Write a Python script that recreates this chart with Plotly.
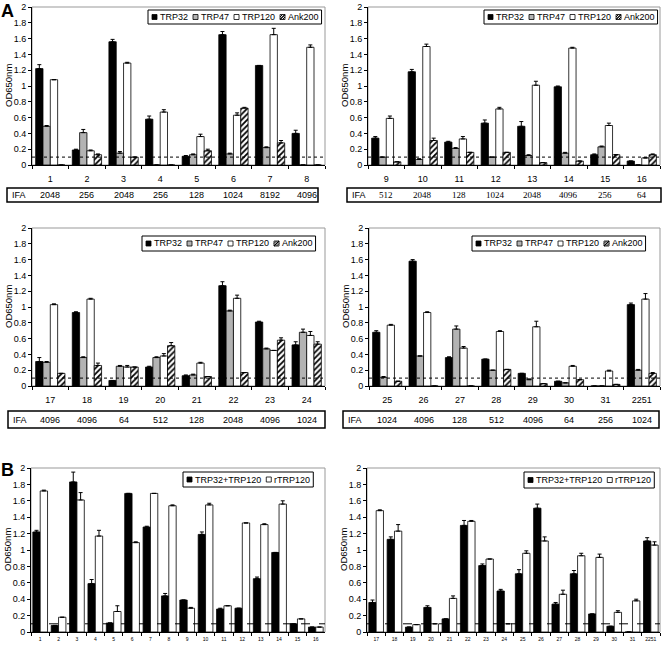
import plotly.graph_objects as go

W, H = 664, 648


def px(x):
    return x / W


def py(y):
    return 1 - y / H


# ---------------- DATA ----------------
series_A = ["TRP32", "TRP47", "TRP120", "Ank200"]
series_B = ["TRP32+TRP120", "rTRP120"]

cats_A1 = ["1", "2", "3", "4", "5", "6", "7", "8"]
trp32_A1 = [1.22, 0.19, 1.56, 0.58, 0.11, 1.65, 1.26, 0.40]
trp32_A1_err = [0.05, 0.01, 0.03, 0.04, 0.01, 0.04, 0.0, 0.04]
trp47_A1 = [0.49, 0.41, 0.15, 0.0, 0.13, 0.14, 0.22, 0.0]
trp47_A1_err = [0.01, 0.04, 0.02, 0.0, 0.01, 0.01, 0.01, 0.0]
trp120_A1 = [1.08, 0.18, 1.29, 0.67, 0.36, 0.63, 1.65, 1.49]
trp120_A1_err = [0.0, 0.01, 0.01, 0.03, 0.03, 0.03, 0.08, 0.03]
ank200_A1 = [0.0, 0.13, 0.10, 0.0, 0.18, 0.72, 0.28, 0.0]
ank200_A1_err = [0.0, 0.01, 0.0, 0.0, 0.02, 0.01, 0.03, 0.0]
ifa_A1 = ["2048", "256", "2048", "256", "128", "1024", "8192", "4096"]

cats_A2 = ["9", "10", "11", "12", "13", "14", "15", "16"]
trp32_A2 = [0.34, 1.18, 0.29, 0.53, 0.49, 0.99, 0.13, 0.05]
trp32_A2_err = [0.02, 0.03, 0.01, 0.04, 0.06, 0.01, 0.01, 0.0]
trp47_A2 = [0.10, 0.07, 0.21, 0.10, 0.12, 0.15, 0.23, 0.0]
trp47_A2_err = [0.0, 0.01, 0.01, 0.0, 0.01, 0.01, 0.01, 0.0]
trp120_A2 = [0.59, 1.50, 0.33, 0.71, 1.01, 1.48, 0.50, 0.09]
trp120_A2_err = [0.03, 0.03, 0.03, 0.02, 0.05, 0.01, 0.03, 0.0]
ank200_A2 = [0.04, 0.31, 0.16, 0.16, 0.03, 0.05, 0.13, 0.13]
ank200_A2_err = [0.0, 0.03, 0.0, 0.0, 0.0, 0.0, 0.0, 0.01]
ifa_A2 = ["512", "2048", "128", "1024", "2048", "4096", "256", "64"]

cats_A3 = ["17", "18", "19", "20", "21", "22", "23", "24"]
trp32_A3 = [0.31, 0.93, 0.07, 0.24, 0.13, 1.27, 0.81, 0.52]
trp32_A3_err = [0.05, 0.01, 0.0, 0.01, 0.01, 0.05, 0.01, 0.04]
trp47_A3 = [0.30, 0.36, 0.25, 0.36, 0.14, 0.95, 0.47, 0.68]
trp47_A3_err = [0.01, 0.01, 0.01, 0.01, 0.01, 0.01, 0.01, 0.04]
trp120_A3 = [1.03, 1.10, 0.24, 0.38, 0.29, 1.11, 0.45, 0.64]
trp120_A3_err = [0.01, 0.01, 0.02, 0.03, 0.01, 0.04, 0.0, 0.05]
ank200_A3 = [0.16, 0.26, 0.24, 0.51, 0.12, 0.17, 0.58, 0.53]
ank200_A3_err = [0.0, 0.03, 0.0, 0.04, 0.0, 0.0, 0.03, 0.03]
ifa_A3 = ["4096", "4096", "64", "512", "128", "2048", "4096", "1024"]

cats_A4 = ["25", "26", "27", "28", "29", "30", "31", "2251"]
trp32_A4 = [0.68, 1.58, 0.36, 0.34, 0.16, 0.06, 0.0, 1.03]
trp32_A4_err = [0.02, 0.02, 0.01, 0.0, 0.0, 0.0, 0.0, 0.02]
trp47_A4 = [0.11, 0.38, 0.72, 0.20, 0.08, 0.04, 0.0, 0.20]
trp47_A4_err = [0.01, 0.0, 0.04, 0.0, 0.01, 0.0, 0.0, 0.01]
trp120_A4 = [0.77, 0.93, 0.48, 0.69, 0.75, 0.25, 0.19, 1.10]
trp120_A4_err = [0.01, 0.01, 0.02, 0.01, 0.07, 0.01, 0.01, 0.07]
ank200_A4 = [0.06, 0.0, 0.0, 0.21, 0.03, 0.08, 0.02, 0.16]
ank200_A4_err = [0.0, 0.0, 0.0, 0.0, 0.0, 0.0, 0.0, 0.01]
ifa_A4 = ["1024", "4096", "128", "512", "4096", "64", "256", "1024"]

cats_B1 = ["1", "2", "3", "4", "5", "6", "7", "8", "9", "10", "11", "12", "13", "14", "15", "16"]
comb_B1 = [1.22, 0.08, 1.83, 0.59, 0.11, 1.69, 1.28, 0.44, 0.39, 1.19, 0.28, 0.29, 0.65, 0.97, 0.10, 0.06]
comb_B1_err = [0.02, 0.0, 0.12, 0.05, 0.0, 0.0, 0.01, 0.03, 0.0, 0.03, 0.01, 0.0, 0.02, 0.0, 0.0, 0.0]
rtrp_B1 = [1.72, 0.18, 1.61, 1.17, 0.25, 1.09, 1.69, 1.54, 0.29, 1.55, 0.32, 1.33, 1.31, 1.56, 0.16, 0.06]
rtrp_B1_err = [0.01, 0.0, 0.09, 0.07, 0.07, 0.01, 0.0, 0.01, 0.01, 0.02, 0.0, 0.0, 0.01, 0.04, 0.0, 0.0]

cats_B2 = ["17", "18", "19", "20", "21", "22", "23", "24", "25", "26", "27", "28", "29", "30", "31", "2251"]
comb_B2 = [0.36, 1.13, 0.06, 0.30, 0.16, 1.30, 0.81, 0.50, 0.71, 1.51, 0.34, 0.71, 0.22, 0.07, 0.0, 1.11]
comb_B2_err = [0.03, 0.03, 0.0, 0.02, 0.0, 0.06, 0.02, 0.02, 0.05, 0.05, 0.02, 0.04, 0.0, 0.0, 0.0, 0.04]
rtrp_B2 = [1.48, 1.23, 0.09, 0.10, 0.41, 1.35, 0.89, 0.10, 0.96, 1.11, 0.46, 0.93, 0.91, 0.24, 0.38, 1.06]
rtrp_B2_err = [0.01, 0.08, 0.0, 0.0, 0.03, 0.01, 0.0, 0.0, 0.03, 0.05, 0.05, 0.03, 0.04, 0.02, 0.02, 0.04]

cutoff = 0.1
y_ticks = [0, 0.2, 0.4, 0.6, 0.8, 1, 1.2, 1.4, 1.6, 1.8, 2]

# ---------------- STYLE ----------------
FONT = "Liberation Sans"
SERIF = "Liberation Serif"
GRAY = "#b3b3b3"
styles = {
    "TRP32": dict(color="black"),
    "TRP47": dict(color=GRAY),
    "TRP120": dict(color="white"),
    "Ank200": dict(color="white", pattern=dict(shape="/", fgcolor="black", bgcolor="white", size=4, solidity=0.45)),
    "TRP32+TRP120": dict(color="black"),
    "rTRP120": dict(color="white"),
}

panels = [
    dict(id="", x=(32, 325), y=(7, 165), cats=cats_A1, names=series_A,
         vals=[trp32_A1, trp47_A1, trp120_A1, ank200_A1],
         errs=[trp32_A1_err, trp47_A1_err, trp120_A1_err, ank200_A1_err],
         ifa=ifa_A1, ifa_box=(7, 188, 318, 202), ifa_font=FONT, dash="dot",
         legend=(148, 10, 14), kind="A"),
    dict(id="2", x=(368, 660), y=(7, 165), cats=cats_A2, names=series_A,
         vals=[trp32_A2, trp47_A2, trp120_A2, ank200_A2],
         errs=[trp32_A2_err, trp47_A2_err, trp120_A2_err, ank200_A2_err],
         ifa=ifa_A2, ifa_box=(347, 188, 661, 202), ifa_font=SERIF, dash="dot",
         legend=(484, 10, 14), kind="A"),
    dict(id="3", x=(32, 325), y=(228, 386), cats=cats_A3, names=series_A,
         vals=[trp32_A3, trp47_A3, trp120_A3, ank200_A3],
         errs=[trp32_A3_err, trp47_A3_err, trp120_A3_err, ank200_A3_err],
         ifa=ifa_A3, ifa_box=(8, 411, 325, 428), ifa_font=FONT, dash="dot",
         legend=(142, 236, 15), kind="A"),
    dict(id="4", x=(369, 660), y=(228, 386), cats=cats_A4, names=series_A,
         vals=[trp32_A4, trp47_A4, trp120_A4, ank200_A4],
         errs=[trp32_A4_err, trp47_A4_err, trp120_A4_err, ank200_A4_err],
         ifa=ifa_A4, ifa_box=(343, 411, 659, 428), ifa_font=FONT, dash="dot",
         legend=(472, 236, 15), kind="A"),
    dict(id="5", x=(31, 325), y=(468, 632), cats=cats_B1, names=series_B,
         vals=[comb_B1, rtrp_B1], errs=[comb_B1_err, rtrp_B1_err],
         ifa=None, dash="dash", legend=(183, 472, 15), kind="B"),
    dict(id="6", x=(367, 660), y=(468, 632), cats=cats_B2, names=series_B,
         vals=[comb_B2, rtrp_B2], errs=[comb_B2_err, rtrp_B2_err],
         ifa=None, dash="dash", legend=(524, 472, 16), kind="B"),
]

CW = {"T": .611, "R": .722, "P": .667, "A": .667, "n": .556, "k": .5, "+": .584, "r": .333}


def text_w(s, size):
    return sum(CW.get(c, .556) for c in s) * size


fig = go.Figure()
shapes = []
annotations = []


def label(text, x, y, size=9, family=FONT, xanchor="center", xref="paper", angle=0, yanchor="middle"):
    annotations.append(dict(text=text, xref=xref, yref="paper", x=x, y=y,
                            xanchor=xanchor, yanchor=yanchor, showarrow=False,
                            textangle=angle, borderpad=0,
                            font=dict(family=family, size=size, color="black")))


for p in panels:
    xa = "x" + p["id"]
    ya = "y" + p["id"]
    for name, vals, errs in zip(p["names"], p["vals"], p["errs"]):
        fig.add_trace(go.Bar(
            x=p["cats"], y=vals, name=name, xaxis=xa, yaxis=ya,
            marker=dict(**styles[name], line=dict(color="black", width=0.8)),
            error_y=dict(type="data", symmetric=False, array=errs,
                         arrayminus=[0] * len(errs), color="black",
                         thickness=1, width=2),
            showlegend=False, hoverinfo="skip",
        ))
    axkey = "xaxis" + p["id"]
    aykey = "yaxis" + p["id"]
    small = p["kind"] == "B"
    n = len(p["cats"])
    fig.layout[axkey] = dict(
        domain=[px(p["x"][0]), px(p["x"][1])], anchor=ya, type="category",
        categoryorder="array", categoryarray=p["cats"], range=[-0.5, n - 0.5],
        showline=True, linecolor="black", linewidth=1, ticks="outside",
        tickson="boundaries", ticklen=3, tickcolor="black", showgrid=False,
        tickangle=0, automargin=False,
        tickfont=dict(family=FONT, size=5 if small else 9, color="black"),
        ticklabelstandoff=2 if small else 5,
    )
    fig.layout[aykey] = dict(
        domain=[py(p["y"][1]), py(p["y"][0])], anchor=xa, range=[0, 2],
        tickvals=y_ticks, ticks="outside", ticklen=3, tickcolor="black",
        showline=True, linecolor="black", linewidth=1, showgrid=False,
        zeroline=False, automargin=False,
        tickfont=dict(family=FONT, size=9, color="black"),
    )
    # plot frame
    shapes.append(dict(type="rect", xref=xa + " domain", yref=ya + " domain",
                       x0=0, x1=1, y0=0, y1=1, line=dict(color="#999999", width=1),
                       layer="below"))
    # cutoff line
    shapes.append(dict(type="line", xref=xa + " domain", yref=ya, x0=0, x1=1,
                       y0=cutoff, y1=cutoff,
                       line=dict(color="black", width=1, dash=p["dash"])))
    # y title
    label("OD650nm", px(p["x"][0] - 24), py((p["y"][0] + p["y"][1]) / 2), size=9.5, angle=-90)
    # IFA box
    if p["ifa"] is not None:
        x0, y0, x1, y1 = p["ifa_box"]
        shapes.append(dict(type="rect", xref="paper", yref="paper",
                           x0=px(x0), x1=px(x1), y0=py(y1), y1=py(y0),
                           line=dict(color="black", width=1.5)))
        yc = py((y0 + y1) / 2)
        label("IFA", px(x0 + 4), yc, xanchor="left")
        for i, v in enumerate(p["ifa"]):
            label(v, i, yc, family=p["ifa_font"], xref=xa)
    # legend (drawn)
    lx, ly, lh = p["legend"]
    fs = 9
    x = lx + 4
    ymid = ly + lh / 2
    for name in p["names"]:
        sq = 5
        s0, s1 = x, x + sq
        t0, t1 = ymid - sq / 2, ymid + sq / 2
        st = styles[name]
        fill = st["color"]
        shapes.append(dict(type="rect", xref="paper", yref="paper",
                           x0=px(s0), x1=px(s1), y0=py(t1), y1=py(t0),
                           fillcolor=fill, line=dict(color="black", width=0.8)))
        if "pattern" in st:
            shapes.append(dict(type="line", xref="paper", yref="paper",
                               x0=px(s0), x1=px(s1), y0=py(t1), y1=py(t0),
                               line=dict(color="black", width=1.2)))
            shapes.append(dict(type="line", xref="paper", yref="paper",
                               x0=px(s0), x1=px(s0 + sq / 2), y0=py(t0 + sq / 2), y1=py(t0),
                               line=dict(color="black", width=1)))
            shapes.append(dict(type="line", xref="paper", yref="paper",
                               x0=px(s0 + sq / 2), x1=px(s1), y0=py(t1), y1=py(t1 - sq / 2),
                               line=dict(color="black", width=1)))
        label(name, px(x + 7), py(ymid), size=fs, xanchor="left")
        x = x + 7 + text_w(name, fs) + 6
    shapes.append(dict(type="rect", xref="paper", yref="paper",
                       x0=px(lx), x1=px(x - 2), y0=py(ly + lh), y1=py(ly),
                       line=dict(color="black", width=1), fillcolor="rgba(0,0,0,0)"))

label("<b>A</b>", px(0), py(0), size=18, xanchor="left", yanchor="top")
label("<b>B</b>", px(0), py(459), size=18, xanchor="left", yanchor="top")

fig.update_layout(
    template="none",
    width=W, height=H, autosize=False,
    margin=dict(l=0, r=0, t=0, b=0, pad=0),
    paper_bgcolor="white", plot_bgcolor="white",
    barmode="group", bargap=0.2, bargroupgap=0.0,
    shapes=shapes, annotations=annotations, showlegend=False,
    font=dict(family=FONT, color="black"),
)

fig.write_html("out.html", config={"displayModeBar": False},
               post_script="document.body.style.margin='0px';document.body.style.overflow='hidden';")
